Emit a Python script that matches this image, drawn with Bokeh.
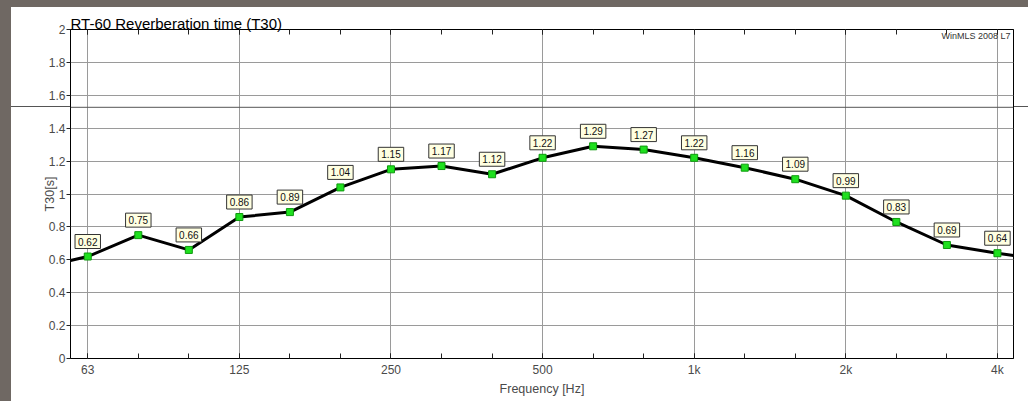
from bokeh.plotting import figure
from bokeh.models import (ColumnDataSource, FixedTicker, LogAxis, Label, Span, Range1d,
                          CustomJSTickFormatter, GlobalInlineStyleSheet)
from bokeh.embed import file_html
from bokeh.resources import INLINE
from bokeh.core.properties import value

# ---- data ----
band_labels = ["63", "80", "100", "125", "160", "200", "250", "315", "400", "500",
               "630", "800", "1k", "1.25k", "1.6k", "2k", "2.5k", "3.15k", "4k"]
band_freqs = [62.5, 78.75, 99.21, 125.0, 157.5, 198.4, 250.0, 315.0, 396.9, 500.0,
              630.0, 793.7, 1000.0, 1259.9, 1587.4, 2000.0, 2519.8, 3174.8, 4000.0]
t30 = [0.62, 0.75, 0.66, 0.86, 0.89, 1.04, 1.15, 1.17, 1.12, 1.22,
       1.29, 1.27, 1.22, 1.16, 1.09, 0.99, 0.83, 0.69, 0.64]
t30_text = ["0.62", "0.75", "0.66", "0.86", "0.89", "1.04", "1.15", "1.17", "1.12", "1.22",
            "1.29", "1.27", "1.22", "1.16", "1.09", "0.99", "0.83", "0.69", "0.64"]
# curve continues to the plot edges
edge_freqs = [57.76, 4305.0]
edge_t30 = [0.596, 0.626]

octave_freqs = [62.5, 125.0, 250.0, 500.0, 1000.0, 2000.0, 4000.0]
octave_labels = ["63", "125", "250", "500", "1k", "2k", "4k"]
y_ticks = [0.0, 0.2, 0.4, 0.6, 0.8, 1.0, 1.2, 1.4, 1.6, 1.8, 2.0]
y_tick_labels = ["0", "0.2", "0.4", "0.6", "0.8", "1", "1.2", "1.4", "1.6", "1.8", "2"]
artifact_level = 1.527

FONT = "Liberation Sans"
GRAY_TXT = "#4a4a4a"
GRID = "#9a9a9a"
BORDER = "#6f6863"

line_x = [edge_freqs[0]] + band_freqs + [edge_freqs[1]]
line_y = [edge_t30[0]] + t30 + [edge_t30[1]]

src = ColumnDataSource(dict(x=band_freqs, y=t30, txt=t30_text, band=band_labels))

p = figure(width=1017, height=394, x_axis_type="log",
           x_range=Range1d(edge_freqs[0], edge_freqs[1]), y_range=Range1d(0, 2),
           output_backend="svg", toolbar_location=None,
           min_border_left=59, min_border_right=15, min_border_top=22, min_border_bottom=43,
           background_fill_color="white", border_fill_color="white", border_fill_alpha=0,
           outline_line_color="black", outline_line_width=1)
# page chrome of the screenshot: grey strips at left/top and a stray scan line across
p.stylesheets = [GlobalInlineStyleSheet(
    css="html{background:white;overflow:hidden;}"
        "body{overflow:hidden;margin:0 !important;padding:0 !important;box-sizing:border-box;"
        f"border-left:11px solid {BORDER};border-top:7px solid {BORDER};"
        "background:linear-gradient(#555555,#555555) no-repeat 0 99px / 100% 1px, white;}")]

pick_js = """
let i = 0, b = 1e99;
for (let k = 0; k < tvals.length; k++) { const d = Math.abs(tvals[k] - tick); if (d < b) { b = d; i = k } }
return tlabels[i];
"""
xticker = FixedTicker(ticks=octave_freqs, minor_ticks=band_freqs)
yticker = FixedTicker(ticks=y_ticks, minor_ticks=[])

xa = p.xaxis[0]
xa.ticker = xticker
xa.formatter = CustomJSTickFormatter(args=dict(tvals=octave_freqs, tlabels=octave_labels), code=pick_js)
xa.major_tick_in = 5
xa.major_tick_out = 0
xa.minor_tick_in = 5
xa.minor_tick_out = 0
xa.major_label_standoff = 4
xa.axis_label = "Frequency [Hz]"
xa.axis_label_standoff = 2

ya = p.yaxis[0]
ya.ticker = yticker
ya.formatter = CustomJSTickFormatter(args=dict(tvals=y_ticks, tlabels=y_tick_labels), code=pick_js)
ya.major_tick_in = 0
ya.major_tick_out = 4
ya.minor_tick_in = 0
ya.minor_tick_out = 0
ya.major_label_standoff = 1
ya.axis_label = "T30[s]"
ya.axis_label_standoff = -11

for ax in (xa, ya):
    ax.axis_line_color = "black"
    ax.major_tick_line_color = "#222222"
    ax.minor_tick_line_color = "#222222"
    ax.major_label_text_font = FONT
    ax.major_label_text_font_size = "12px"
    ax.major_label_text_color = GRAY_TXT
    ax.axis_label_text_font = FONT
    ax.axis_label_text_font_size = "12.5px"
    ax.axis_label_text_font_style = "normal"
    ax.axis_label_text_color = GRAY_TXT

top = LogAxis(ticker=xticker, formatter=CustomJSTickFormatter(code="return ''"),
              major_tick_in=5, major_tick_out=0, minor_tick_in=5, minor_tick_out=0,
              major_label_text_font_size="0px", major_label_standoff=0, axis_line_color="black",
              major_tick_line_color="#222222", minor_tick_line_color="#222222")
p.add_layout(top, "above")

p.title.text = "RT-60 Reverberation time (T30)"
p.title.align = "left"
p.title.offset = 0
p.title.standoff = -5
p.title.text_font = FONT
p.title.text_font_size = "15px"
p.title.text_font_style = "normal"
p.title.text_color = "black"

p.xgrid.ticker = xticker
p.ygrid.ticker = yticker
p.xgrid.grid_line_color = GRID
p.ygrid.grid_line_color = GRID
p.xgrid.grid_line_width = 1
p.ygrid.grid_line_width = 1

# stray scan line inside the frame
p.add_layout(Span(location=artifact_level, dimension="width", line_color="#555555", line_width=1))

p.line(line_x, line_y, line_color="black", line_width=3)
p.scatter("x", "y", source=src, marker="square", size=7,
          fill_color="#1fe01f", line_color="#0e9a0e", line_width=1)
p.text("x", "y", text="txt", source=src, text_align="center", text_baseline="bottom",
       y_offset=-8, text_font=value(FONT), text_font_size="10px", text_color="#111111",
       background_fill_color="#ffffe1", border_line_color="#333333", border_line_width=1,
       padding=3)

p.add_layout(Label(x=940, y=328, x_units="screen", y_units="screen",
                   text="WinMLS 2008 L7", text_font=FONT, text_font_size="9px",
                   text_color="#333333", text_align="right", text_baseline="top"))

open("out.html", "w").write(file_html(p, INLINE))
